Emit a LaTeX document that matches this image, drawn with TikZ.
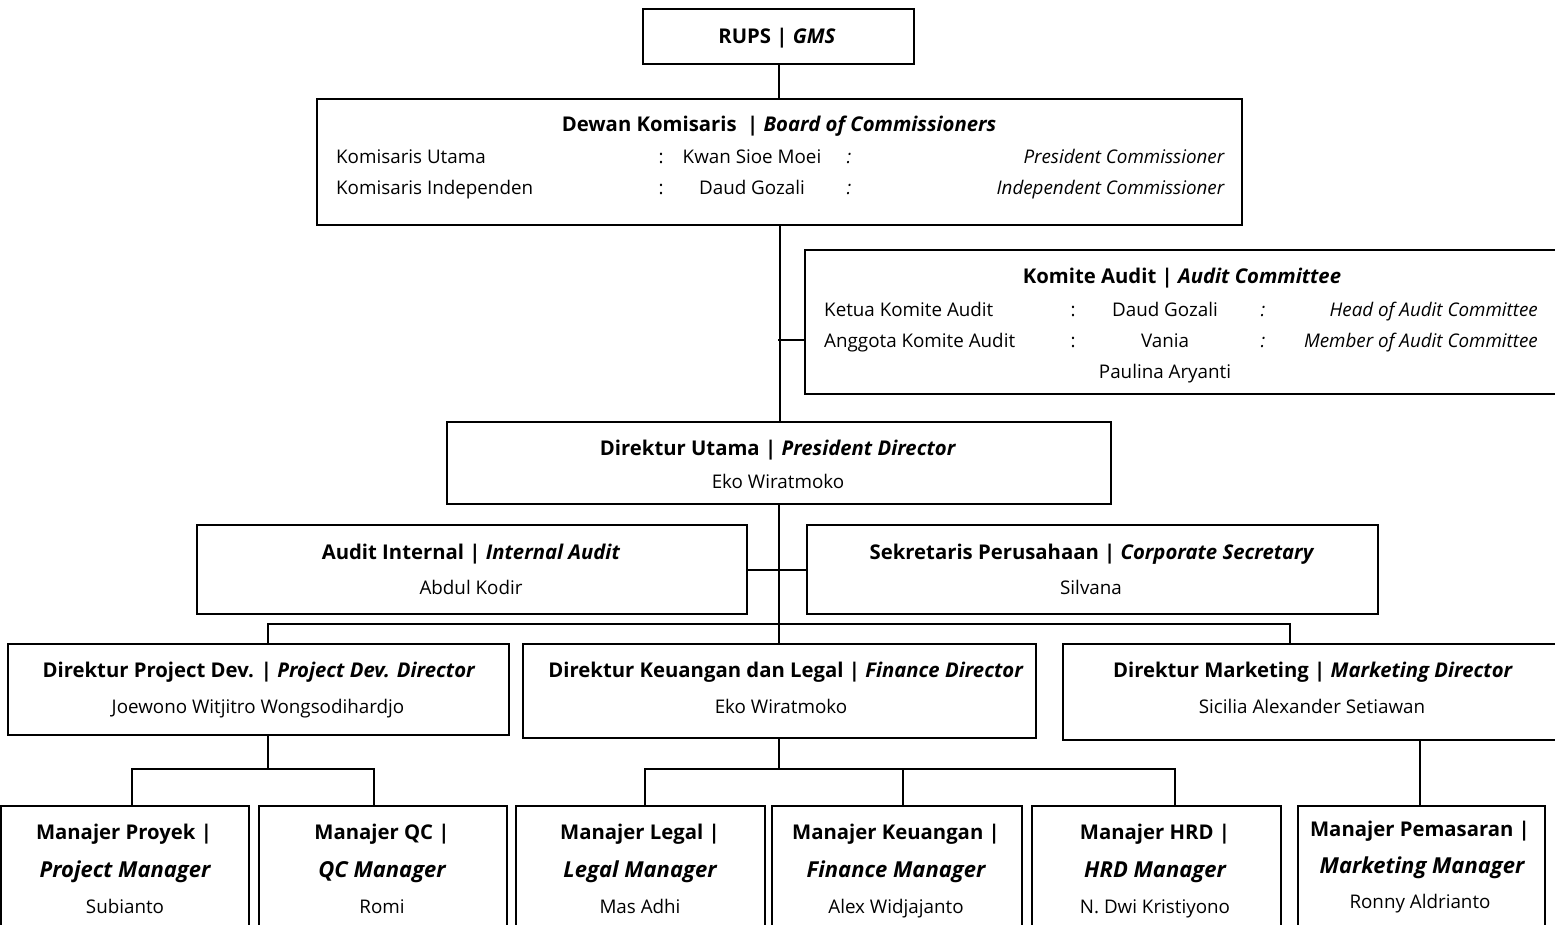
\documentclass[tikz,border=0pt]{standalone}
\usepackage{fontspec}
\setmainfont{Open Sans}
\usetikzlibrary{shadows}

\begin{document}
\begin{tikzpicture}[x=1pt,y=-1pt,
    every node/.style={inner sep=0pt},
    box/.style={draw, fill=white, line width=2pt, anchor=north west,
      drop shadow={shadow xshift=1.2pt, shadow yshift=-1.2pt, opacity=.45, fill=gray}},
    lbl/.style={text height=0.72em, text depth=0pt, yshift=-3pt},
    ttl/.style={lbl, font=\fontsize{20.3}{22}\selectfont\bfseries},
    sub/.style={lbl, font=\fontsize{22}{24}\selectfont\bfseries\itshape},
    txt/.style={lbl, font=\fontsize{18.8}{21}\selectfont},
    con/.style={line width=2pt}]
  \useasboundingbox (0,0) rectangle (1555,925);
  \clip (0,0) rectangle (1555,925);

  % kotak-kotak (x, y dari kiri atas)
  \node[box, minimum width=271, minimum height=55] (rups) at (642,8) {};
  \node[box, minimum width=925, minimum height=126] (bod) at (316,98) {};
  \node[box, minimum width=780, minimum height=144] (ka) at (804,249) {};
  \node[box, minimum width=664, minimum height=82] (du) at (446,421) {};
  \node[box, minimum width=550, minimum height=89] (ai) at (196,524) {};
  \node[box, minimum width=571, minimum height=89] (cs) at (806,524) {};
  \node[box, minimum width=501, minimum height=91] (dp) at (7,643) {};
  \node[box, minimum width=513, minimum height=94] (dk) at (522,643) {};
  \node[box, minimum width=520, minimum height=96] (dm) at (1062,643) {};
  \node[box, minimum width=248, minimum height=160] (mp) at (0,805) {};
  \node[box, minimum width=248, minimum height=160] (mq) at (258,805) {};
  \node[box, minimum width=249, minimum height=160] (ml) at (515,805) {};
  \node[box, minimum width=250, minimum height=160] (mk) at (771,805) {};
  \node[box, minimum width=249, minimum height=160] (mh) at (1031,805) {};
  \node[box, minimum width=247, minimum height=160] (mm) at (1297,805) {};

  % RUPS dan Dewan Komisaris
  \node[ttl] (rupsT) at (777,37) {RUPS | \textit{GMS}};
  \node[ttl] (bodT) at (779,125) {Dewan Komisaris \ | \textit{Board of Commissioners}};
  \node[txt, anchor=west] (bodA1) at (336,157) {Komisaris Utama};
  \node[txt] (bodB1) at (661,157) {:};
  \node[txt] (bodC1) at (752,157) {Kwan Sioe Moei};
  \node[txt] (bodD1) at (849,157) {\textit{:}};
  \node[txt, anchor=east] (bodE1) at (1225,157) {\textit{President Commissioner}};
  \node[txt, anchor=west] (bodA2) at (336,188) {Komisaris Independen};
  \node[txt] (bodB2) at (661,188) {:};
  \node[txt] (bodC2) at (752,188) {Daud Gozali};
  \node[txt] (bodD2) at (849,188) {\textit{:}};
  \node[txt, anchor=east] (bodE2) at (1225,188) {\textit{Independent Commissioner}};

  % Komite Audit
  \node[ttl] (kaT) at (1182,277) {Komite Audit | \textit{Audit Committee}};
  \node[txt, anchor=west] (kaA1) at (824,310) {Ketua Komite Audit};
  \node[txt] (kaB1) at (1073,310) {:};
  \node[txt] (kaC1) at (1165,310) {Daud Gozali};
  \node[txt] (kaD1) at (1263,310) {\textit{:}};
  \node[txt, anchor=east] (kaE1) at (1538,310) {\textit{Head of Audit Committee}};
  \node[txt, anchor=west] (kaA2) at (824,341) {Anggota Komite Audit};
  \node[txt] (kaB2) at (1073,341) {:};
  \node[txt] (kaC2) at (1165,341) {Vania};
  \node[txt] (kaD2) at (1263,341) {\textit{:}};
  \node[txt, anchor=east] (kaE2) at (1538,341) {\textit{Member of Audit Committee}};
  \node[txt] (kaC3) at (1165,372) {Paulina Aryanti};

  % direksi
  \node[ttl] (duT) at (778,449) {Direktur Utama | \textit{President Director}};
  \node[txt] (duN) at (778,482) {Eko Wiratmoko};
  \node[ttl] (aiT) at (471,553) {Audit Internal | \textit{Internal Audit}};
  \node[txt] (aiN) at (471,588) {Abdul Kodir};
  \node[ttl] (csT) at (1092,553) {Sekretaris Perusahaan | \textit{Corporate Secretary}};
  \node[txt] (csN) at (1091,588) {Silvana};
  \node[ttl] (dpT) at (259,671) {Direktur Project Dev. | \textit{Project Dev. Director}};
  \node[txt] (dpN) at (258,707) {Joewono Witjitro Wongsodihardjo};
  \node[ttl] (dkT) at (786,671) {Direktur Keuangan dan Legal | \textit{Finance Director}};
  \node[txt] (dkN) at (781,707) {Eko Wiratmoko};
  \node[ttl] (dmT) at (1313,671) {Direktur Marketing | \textit{Marketing Director}};
  \node[txt] (dmN) at (1312,707) {Sicilia Alexander Setiawan};

  % manajer
  \node[ttl] (mpT) at (124,833) {Manajer Proyek |};
  \node[sub] (mpS) at (125,871) {Project Manager};
  \node[txt] (mpN) at (125,907) {Subianto};
  \node[ttl] (mqT) at (382,833) {Manajer QC |};
  \node[sub] (mqS) at (382,871) {QC Manager};
  \node[txt] (mqN) at (382,907) {Romi};
  \node[ttl] (mlT) at (640,833) {Manajer Legal |};
  \node[sub] (mlS) at (640,871) {Legal Manager};
  \node[txt] (mlN) at (640,907) {Mas Adhi};
  \node[ttl] (mkT) at (896,833) {Manajer Keuangan |};
  \node[sub] (mkS) at (896,871) {Finance Manager};
  \node[txt] (mkN) at (896,907) {Alex Widjajanto};
  \node[ttl] (mhT) at (1155,833) {Manajer HRD |};
  \node[sub] (mhS) at (1155,871) {HRD Manager};
  \node[txt] (mhN) at (1155,907) {N. Dwi Kristiyono};
  \node[ttl] (mmT) at (1420,830) {Manajer Pemasaran |};
  \node[sub] (mmS) at (1422,867) {Marketing Manager};
  \node[txt] (mmN) at (1420,902) {Ronny Aldrianto};

  % garis
  \coordinate (kaj) at (778,340);
  \coordinate (b1) at (268,624);
  \coordinate (b2) at (1290,624);
  \coordinate (p1) at (132,769);
  \coordinate (p2) at (374,769);
  \coordinate (k0) at (779,769);
  \coordinate (k1) at (645,769);
  \coordinate (k2) at (903,769);
  \coordinate (k3) at (1175,769);
  \coordinate (m0) at (1420,769);
  \draw[con] (rups.south) -- (rups.south |- bod.north);
  \draw[con] (bod.south) -- (bod.south |- du.north);
  \draw[con] (kaj) -- (kaj -| ka.west);
  \draw[con] (ai.east) -- (cs.west);
  \draw[con] (du.south) -- (du.south |- dk.north);
  \draw[con] (b1 |- dp.north) -- (b1) -- (b2) -- (b2 |- dm.north);
  \draw[con] (b1 |- dp.south) -- (b1 |- p1);
  \draw[con] (p1 |- mp.north) -- (p1) -- (p2) -- (p2 |- mq.north);
  \draw[con] (k0 |- dk.south) -- (k0);
  \draw[con] (k1 |- ml.north) -- (k1) -- (k3) -- (k3 |- mh.north);
  \draw[con] (k2) -- (k2 |- mk.north);
  \draw[con] (m0 |- dm.south) -- (m0 |- mm.north);
\end{tikzpicture}
\end{document}
